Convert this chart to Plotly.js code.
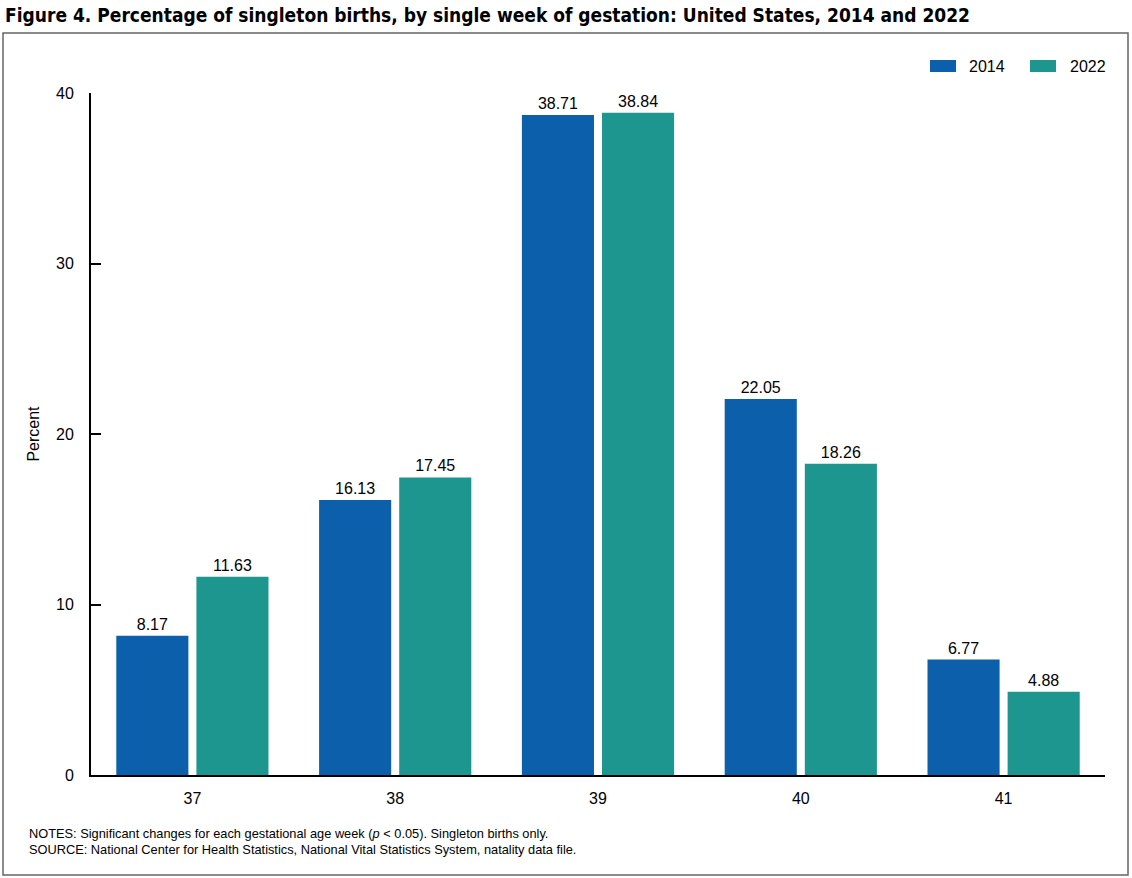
<!DOCTYPE html>
<html><head><meta charset="utf-8">
<script src="https://cdn.plot.ly/plotly-3.0.1.min.js"></script>
<style>html,body{margin:0;padding:0;background:#fff}#chart{width:1132px;height:878px}</style>
</head><body><div id="chart"></div>
<script>
const weeks = ['37', '38', '39', '40', '41'];
const series2014 = [8.17, 16.13, 38.71, 22.05, 6.77];
const series2022 = [11.63, 17.45, 38.84, 18.26, 4.88];
const seriesNames = ['2014', '2022'];
const colors = ['#0b5fab', '#1c968f'];
const yTicks = [0, 10, 20, 30, 40];

const F = 'Liberation Sans, Arial, sans-serif';
const W = 1132, H = 878, L = 91, R = 27, T = 93, B = 103;
const pw = W - L - R, ph = H - T - B;
const px = x => (x - L) / pw;
const py = y => (H - B - y) / ph;

const mk = (vals, i) => ({
  type: 'bar', x: weeks, y: vals, name: seriesNames[i],
  marker: {color: colors[i]},
  text: vals.map(v => v.toFixed(2)), textposition: 'outside',
  textfont: {family: F, size: 16, color: '#000'},
  cliponaxis: false, hoverinfo: 'x+y'
});

const legendX = [[930, 956, 967], [1030, 1056, 1068]];
const shapes = [{
  type: 'rect', xref: 'paper', yref: 'paper',
  x0: px(3), x1: px(1128), y0: py(875), y1: py(33),
  line: {color: '#666', width: 1.5}, fillcolor: 'rgba(0,0,0,0)'
}];
const annotations = [
  {xref: 'paper', yref: 'paper', x: px(27), y: py(833), xanchor: 'left', yanchor: 'middle', showarrow: false,
   text: 'NOTES: Significant changes for each gestational age week (<i>p</i> < 0.05). Singleton births only.',
   font: {family: F, size: 12.8, color: '#000'}},
  {xref: 'paper', yref: 'paper', x: px(27), y: py(850), xanchor: 'left', yanchor: 'middle', showarrow: false,
   text: 'SOURCE: National Center for Health Statistics, National Vital Statistics System, natality data file.',
   font: {family: F, size: 12.8, color: '#000'}}
];
seriesNames.forEach((n, i) => {
  const [a, b, t] = legendX[i];
  shapes.push({type: 'rect', xref: 'paper', yref: 'paper', x0: px(a), x1: px(b), y0: py(72), y1: py(60),
    line: {width: 0}, fillcolor: colors[i]});
  annotations.push({xref: 'paper', yref: 'paper', x: px(t), y: py(66), xanchor: 'left', yanchor: 'middle',
    showarrow: false, text: n, font: {family: F, size: 16, color: '#000'}});
});

const layout = {
  width: W, height: H,
  margin: {l: L, r: R, t: T, b: B},
  paper_bgcolor: '#fff', plot_bgcolor: '#fff',
  font: {family: F, size: 16, color: '#000'},
  title: {text: 'Figure 4. Percentage of singleton births, by single week of gestation: United States, 2014 and 2022',
    x: 5 / W, xanchor: 'left', xref: 'container', y: 1 - 15 / H, yanchor: 'middle', yref: 'container',
    font: {family: 'DejaVu Sans Condensed, Liberation Sans Narrow, Arial Narrow, sans-serif', size: 19, weight: 'bold', color: '#000'}},
  showlegend: false,
  barmode: 'group', bargap: 0.21, bargroupgap: 0.1,
  xaxis: {type: 'category', showline: true, linecolor: '#000', linewidth: 2, ticks: '',
    showgrid: false, zeroline: false, ticklabelstandoff: 8, tickfont: {family: F, size: 16, color: '#000'}},
  yaxis: {range: [0, 40], tickvals: yTicks, ticktext: yTicks.map(String), showline: true, linecolor: '#000', linewidth: 2,
    ticks: 'inside', ticklen: 10, tickwidth: 2, tickcolor: '#000', showgrid: false, zeroline: false,
    ticklabelstandoff: 12, tickfont: {family: F, size: 16, color: '#000'},
    title: {text: 'Percent', standoff: 12, font: {family: F, size: 16, color: '#000'}}},
  shapes, annotations
};

Plotly.newPlot('chart', [mk(series2014, 0), mk(series2022, 1)], layout, {displayModeBar: false, staticPlot: true});
</script></body></html>
